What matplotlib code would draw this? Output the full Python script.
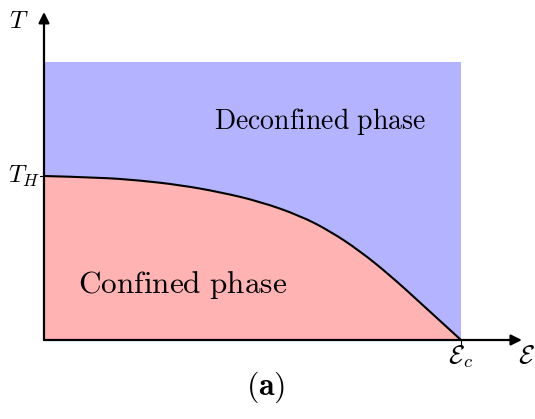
import matplotlib
matplotlib.use('Agg')
import matplotlib.pyplot as plt
from matplotlib.path import Path
from matplotlib.patches import PathPatch

plt.rcParams['mathtext.fontset'] = 'cm'

# phase boundary: energy in units of E_c, temperature in units of T_H
energy = [0.0, 0.134, 0.230, 0.326, 0.422, 0.518, 0.614, 0.686, 0.758, 0.830, 0.902, 1.0]
temperature = [1.0, 0.991, 0.973, 0.945, 0.902, 0.844, 0.758, 0.664, 0.542, 0.394, 0.228, 0.0]
t_top = 1.695
x_arrow = 1.146
y_arrow = 2.0

blue = '#b3b3ff'
red = '#ffb3b3'


def smooth_path(xs, ys):
    # quadratic b-spline through the read points, drawn by matplotlib's path renderer
    pts = list(zip(xs, ys))
    verts = [pts[0]]
    codes = [Path.MOVETO]
    for i in range(1, len(pts) - 2):
        mid = ((pts[i][0] + pts[i + 1][0]) / 2, (pts[i][1] + pts[i + 1][1]) / 2)
        verts += [pts[i], mid]
        codes += [Path.CURVE3, Path.CURVE3]
    verts += [pts[-2], pts[-1]]
    codes += [Path.CURVE3, Path.CURVE3]
    return verts, codes


fig = plt.figure(figsize=(5.35, 4.19), dpi=100)
ax = fig.add_axes([0, 0, 1, 1])
ax.set_xlim(-44 / 417, 491 / 417)
ax.set_ylim(-79 / 164, 340 / 164)
ax.axis('off')

ax.fill_between([0, 1], 0, t_top, color=blue, lw=0)

verts, codes = smooth_path(energy, temperature)
region = Path(verts + [(0, 0), verts[0]], codes + [Path.LINETO, Path.CLOSEPOLY])
ax.add_patch(PathPatch(region, facecolor=red, edgecolor='none'))
ax.add_patch(PathPatch(Path(verts, codes), facecolor='none', edgecolor='black', lw=1.5))

arrow = dict(arrowstyle='-|>', lw=1.6, color='black', mutation_scale=16, shrinkA=0, shrinkB=0)
ax.annotate('', xy=(x_arrow, 0), xytext=(0, 0), arrowprops=arrow)
ax.annotate('', xy=(0, y_arrow), xytext=(0, 0), arrowprops=arrow)
ax.plot([-0.01, 0], [1, 1], color='black', lw=0.8)
ax.plot([1, 1], [0, -0.025], color='black', lw=0.8)

ax.text(-0.01, 1.0, r'$T_H$', fontsize=18, ha='right', va='center')
ax.text(-0.06, 1.945, r'$T$', fontsize=18, ha='center', va='center')
ax.text(1.0, -0.02, r'$\mathcal{E}_c$', fontsize=19, ha='center', va='top')
ax.text(1.158, -0.02, r'$\mathcal{E}$', fontsize=19, ha='center', va='top')

ax.text(0.662, 1.33, r'$\mathrm{Deconfined\ phase}$', fontsize=20, ha='center', va='center')
ax.text(0.332, 0.335, r'$\mathrm{Confined\ phase}$', fontsize=22.5, ha='center', va='center')
ax.text(0.532, -0.29, r'$\mathbf{(a)}$', fontsize=23, ha='center', va='center')

fig.savefig('out.png', dpi=100)
